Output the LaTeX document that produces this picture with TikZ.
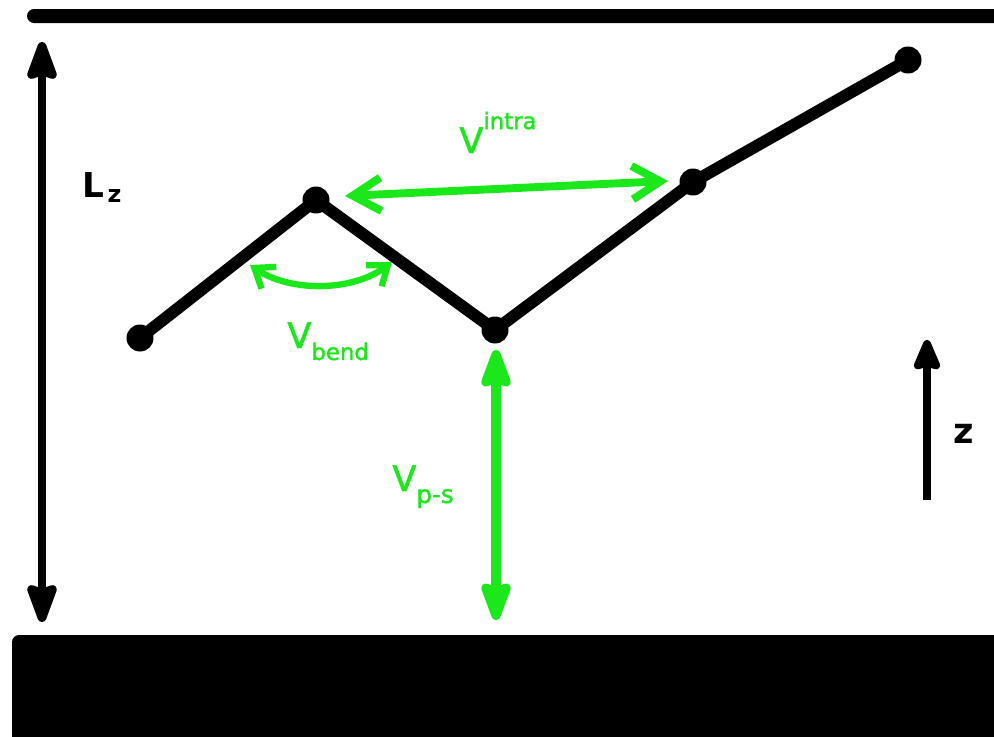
\documentclass[tikz,border=0pt]{standalone}
\usepackage{fontspec}
\setmainfont{DejaVu Sans}
\newfontfamily\greenfont[FakeBold=1.3]{DejaVu Sans}
\usetikzlibrary{arrows.meta}
\definecolor{bondGreen}{HTML}{1AE81A}

\begin{document}
\begin{tikzpicture}[x=0.02cm, y=-0.02cm,
    bead/.style={circle, fill=black, inner sep=0pt, minimum size=0.54cm},
    chain/.style={line width=6.8pt, line join=round, line cap=round},
    lbl/.style={inner sep=0pt, anchor=base west},
    bigV/.style={font=\greenfont\fontsize{20}{20}\selectfont},
    wallTip/.tip={Stealth[length=27pt 0 0, width=19pt 0 0, inset=3pt, round]},
    wallArrow/.style={line width=5pt, wallTip-wallTip},
    bondArrow/.style={bondGreen, line width=4.5pt, {Straight Barb[length=16pt, width=19pt]}-{Straight Barb[length=16pt, width=19pt]}}]
    \useasboundingbox (0,0) rectangle (994,737);
    \clip (0,0) rectangle (994,737);
    % walls
    \fill[rounded corners=4pt] (27,9) rectangle (1010,23);
    \fill[rounded corners=4pt] (12,635) rectangle (1010,760);
    \coordinate (wallTop) at (42,42);
    \coordinate (wallBot) at (42,622);
    \draw[wallArrow] (wallTop) -- (wallBot);
    \node[lbl, font=\fontsize{19.5}{20}\selectfont\bfseries] (lz) at (82,197)
        {L\hspace{2pt}\raisebox{-3.4pt}{\fontsize{13.5}{14}\selectfont z}};
    % chain
    \foreach \n/\x/\y in {b1/140/338, b2/316/200, b3/495/330, b4/693/182, b5/908/60}
        \coordinate (\n) at (\x,\y);
    \draw[chain] (b1) -- (b2) -- (b3) -- (b4) -- (b5);
    \foreach \n in {b1,b2,b3,b4,b5}
        \node[bead] at (\n) {};
    % intra
    \coordinate (intraL) at (345,196);
    \coordinate (intraR) at (668,181);
    \draw[bondArrow] (intraL) -- (intraR);
    \node[lbl, bigV, text=bondGreen] (vintra) at (459,153)
        {V\raisebox{13.6pt}{\fontsize{13}{13}\selectfont intra}};
    % bend
    \coordinate (bendL) at (250,265);
    \coordinate (bendR) at (392,262);
    \draw[bondGreen, line width=3.6pt, {Straight Barb[length=10pt, width=15pt]}-{Straight Barb[length=10pt, width=15pt]}]
        (bendL) .. controls (290,292) and (352,292) .. (bendR);
    \node[lbl, bigV, text=bondGreen] (vbend) at (287,348)
        {V\raisebox{-6.8pt}{\fontsize{13}{13}\selectfont bend}};
    % polymer-surface
    \coordinate (psTop) at (496,350);
    \coordinate (psBot) at (496,620);
    \draw[bondGreen, line width=5.2pt, wallTip-wallTip] (psTop) -- (psBot);
    \node[lbl, bigV, text=bondGreen] (vps) at (392,491)
        {V\raisebox{-6.8pt}{\fontsize{14}{14}\selectfont p-s}};
    % z axis
    \coordinate (zTail) at (927,500);
    \coordinate (zHead) at (927,340);
    \draw[line width=4.5pt, -{Stealth[length=21pt 0 0, width=17pt 0 0, inset=2pt, round]}] (zTail) -- (zHead);
    \node[lbl, font=\fontsize{20}{20}\selectfont\bfseries] (zlbl) at (953,443) {z};
\end{tikzpicture}
\end{document}
